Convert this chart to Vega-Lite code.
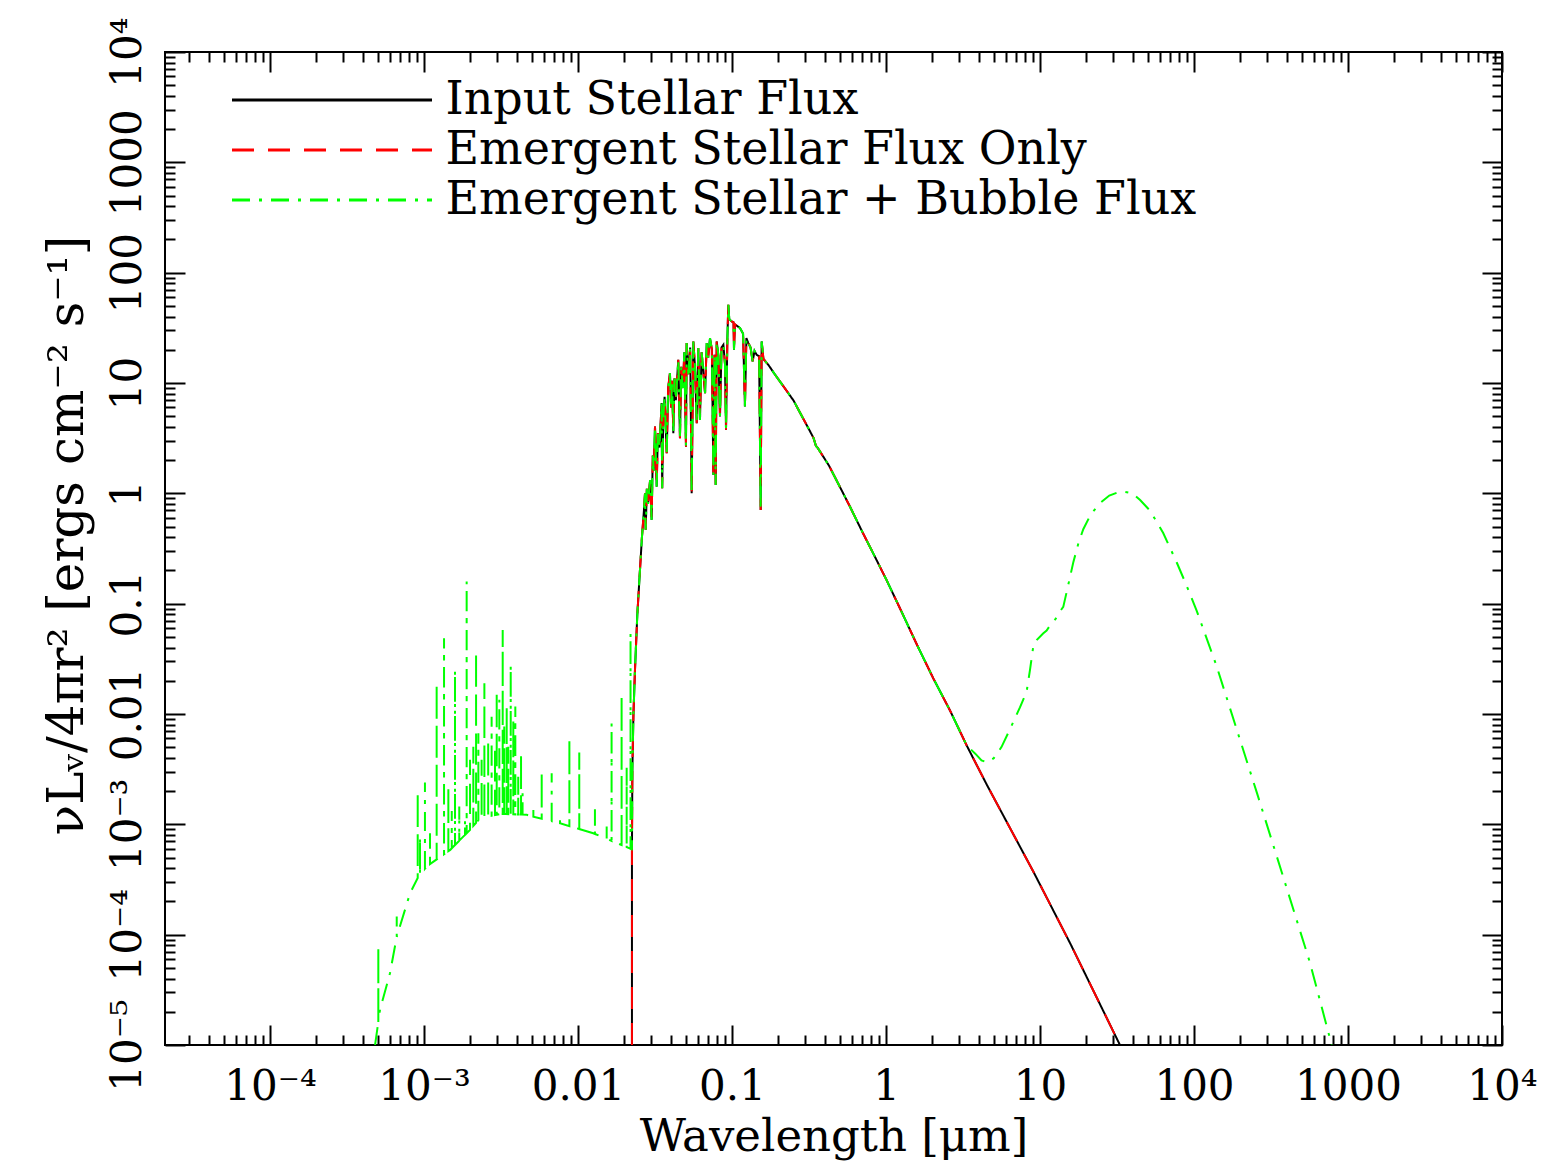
{
  "$schema": "https://vega.github.io/schema/vega-lite/v6.json",
  "width": 1337,
  "height": 993,
  "autosize": {"type": "none"},
  "padding": {"left": 165, "top": 52, "right": 43, "bottom": 119},
  "background": "white",
  "config": {
    "view": {"stroke": "#000", "strokeWidth": 2},
    "font": "DejaVu Serif",
    "axis": {
      "grid": false, "domain": false, "tickColor": "#000", "tickWidth": 2,
      "labelFont": "DejaVu Serif", "labelFontSize": 42, "labelColor": "#000",
      "titleFont": "DejaVu Serif", "titleFontSize": 45, "titleFontWeight": "normal", "titleColor": "#000",
      "labelOverlap": false, "labelFlush": false, "labelBound": false
    },
    "legend": {
      "labelFont": "DejaVu Serif", "labelFontSize": 46, "labelColor": "#000",
      "symbolSize": 40000, "symbolStrokeWidth": 3, "symbolType": "stroke",
      "clipHeight": 50, "rowPadding": 0, "padding": 0, "labelOffset": 12,
      "labelLimit": 1200, "symbolOffset": 0
    }
  },
  "data": {"values": [
    {"p":"x","i":0,"lam":4.81e-4,"f":1.0e-5},
    {"p":"x","i":1,"lam":5.05e-4,"f":1.62e-5},
    {"p":"x","i":2,"lam":5.05e-4,"f":7.78e-5},
    {"p":"x","i":3,"lam":5.05e-4,"f":1.62e-5},
    {"p":"x","i":4,"lam":5.18e-4,"f":2.09e-5},
    {"p":"x","i":5,"lam":6.01e-4,"f":4.47e-5},
    {"p":"x","i":6,"lam":6.65e-4,"f":9.55e-5},
    {"p":"x","i":7,"lam":6.65e-4,"f":1.46e-4},
    {"p":"x","i":8,"lam":6.65e-4,"f":9.55e-5},
    {"p":"x","i":9,"lam":8.11e-4,"f":2.37e-4},
    {"p":"x","i":10,"lam":9.10e-4,"f":3.27e-4},
    {"p":"x","i":11,"lam":9.10e-4,"f":1.98e-3},
    {"p":"x","i":12,"lam":9.10e-4,"f":3.27e-4},
    {"p":"x","i":13,"lam":9.18e-4,"f":3.36e-4},
    {"p":"x","i":14,"lam":9.42e-4,"f":3.51e-4},
    {"p":"x","i":15,"lam":9.42e-4,"f":7.74e-4},
    {"p":"x","i":16,"lam":9.42e-4,"f":3.51e-4},
    {"p":"x","i":17,"lam":1.014e-3,"f":3.96e-4},
    {"p":"x","i":18,"lam":1.014e-3,"f":2.39e-3},
    {"p":"x","i":19,"lam":1.014e-3,"f":3.96e-4},
    {"p":"x","i":20,"lam":1.04e-3,"f":4.14e-4},
    {"p":"x","i":21,"lam":1.094e-3,"f":4.36e-4},
    {"p":"x","i":22,"lam":1.094e-3,"f":8.30e-4},
    {"p":"x","i":23,"lam":1.094e-3,"f":4.36e-4},
    {"p":"x","i":24,"lam":1.208e-3,"f":4.81e-4},
    {"p":"x","i":25,"lam":1.208e-3,"f":1.90e-2},
    {"p":"x","i":26,"lam":1.208e-3,"f":4.81e-4},
    {"p":"x","i":27,"lam":1.349e-3,"f":5.36e-4},
    {"p":"x","i":28,"lam":1.349e-3,"f":4.86e-2},
    {"p":"x","i":29,"lam":1.349e-3,"f":5.36e-4},
    {"p":"x","i":30,"lam":1.439e-3,"f":5.71e-4},
    {"p":"x","i":31,"lam":1.439e-3,"f":2.20e-3},
    {"p":"x","i":32,"lam":1.439e-3,"f":5.71e-4},
    {"p":"x","i":33,"lam":1.48e-3,"f":5.86e-4},
    {"p":"x","i":34,"lam":1.514e-3,"f":6.07e-4},
    {"p":"x","i":35,"lam":1.514e-3,"f":1.32e-3},
    {"p":"x","i":36,"lam":1.514e-3,"f":6.07e-4},
    {"p":"x","i":37,"lam":1.589e-3,"f":6.50e-4},
    {"p":"x","i":38,"lam":1.589e-3,"f":2.51e-2},
    {"p":"x","i":39,"lam":1.589e-3,"f":6.50e-4},
    {"p":"x","i":40,"lam":1.694e-3,"f":7.11e-4},
    {"p":"x","i":41,"lam":1.694e-3,"f":1.45e-3},
    {"p":"x","i":42,"lam":1.694e-3,"f":7.11e-4},
    {"p":"x","i":43,"lam":1.845e-3,"f":8.02e-4},
    {"p":"x","i":44,"lam":1.845e-3,"f":1.096e-3},
    {"p":"x","i":45,"lam":1.845e-3,"f":8.02e-4},
    {"p":"x","i":46,"lam":1.892e-3,"f":8.30e-4},
    {"p":"x","i":47,"lam":1.892e-3,"f":0.1585},
    {"p":"x","i":48,"lam":1.892e-3,"f":8.30e-4},
    {"p":"x","i":49,"lam":1.99e-3,"f":8.91e-4},
    {"p":"x","i":50,"lam":1.99e-3,"f":3.84e-3},
    {"p":"x","i":51,"lam":1.99e-3,"f":8.91e-4},
    {"p":"x","i":52,"lam":2.09e-3,"f":9.68e-4},
    {"p":"x","i":53,"lam":2.09e-3,"f":5.06e-3},
    {"p":"x","i":54,"lam":2.09e-3,"f":9.68e-4},
    {"p":"x","i":55,"lam":2.178e-3,"f":1.033e-3},
    {"p":"x","i":56,"lam":2.178e-3,"f":3.68e-2},
    {"p":"x","i":57,"lam":2.178e-3,"f":1.033e-3},
    {"p":"x","i":58,"lam":2.254e-3,"f":1.09e-3},
    {"p":"x","i":59,"lam":2.254e-3,"f":6.70e-3},
    {"p":"x","i":60,"lam":2.254e-3,"f":1.09e-3},
    {"p":"x","i":61,"lam":2.31e-3,"f":1.135e-3},
    {"p":"x","i":62,"lam":2.366e-3,"f":1.143e-3},
    {"p":"x","i":63,"lam":2.366e-3,"f":3.84e-3},
    {"p":"x","i":64,"lam":2.366e-3,"f":1.143e-3},
    {"p":"x","i":65,"lam":2.466e-3,"f":1.156e-3},
    {"p":"x","i":66,"lam":2.466e-3,"f":1.90e-2},
    {"p":"x","i":67,"lam":2.466e-3,"f":1.156e-3},
    {"p":"x","i":68,"lam":2.61e-3,"f":1.175e-3},
    {"p":"x","i":69,"lam":2.61e-3,"f":5.82e-3},
    {"p":"x","i":70,"lam":2.61e-3,"f":1.175e-3},
    {"p":"x","i":71,"lam":2.748e-3,"f":1.194e-3},
    {"p":"x","i":72,"lam":2.748e-3,"f":9.46e-3},
    {"p":"x","i":73,"lam":2.748e-3,"f":1.194e-3},
    {"p":"x","i":74,"lam":2.89e-3,"f":1.213e-3},
    {"p":"x","i":75,"lam":2.89e-3,"f":5.06e-3},
    {"p":"x","i":76,"lam":2.89e-3,"f":1.213e-3},
    {"p":"x","i":77,"lam":2.965e-3,"f":1.222e-3},
    {"p":"x","i":78,"lam":2.965e-3,"f":1.596e-2},
    {"p":"x","i":79,"lam":2.965e-3,"f":1.222e-3},
    {"p":"x","i":80,"lam":3.083e-3,"f":1.236e-3},
    {"p":"x","i":81,"lam":3.083e-3,"f":1.343e-2},
    {"p":"x","i":82,"lam":3.083e-3,"f":1.236e-3},
    {"p":"x","i":83,"lam":3.12e-3,"f":1.24e-3},
    {"p":"x","i":84,"lam":3.243e-3,"f":1.24e-3},
    {"p":"x","i":85,"lam":3.243e-3,"f":5.78e-2},
    {"p":"x","i":86,"lam":3.243e-3,"f":1.24e-3},
    {"p":"x","i":87,"lam":3.319e-3,"f":1.24e-3},
    {"p":"x","i":88,"lam":3.319e-3,"f":7.69e-3},
    {"p":"x","i":89,"lam":3.319e-3,"f":1.24e-3},
    {"p":"x","i":90,"lam":3.443e-3,"f":1.24e-3},
    {"p":"x","i":91,"lam":3.443e-3,"f":1.167e-2},
    {"p":"x","i":92,"lam":3.443e-3,"f":1.24e-3},
    {"p":"x","i":93,"lam":3.524e-3,"f":1.238e-3},
    {"p":"x","i":94,"lam":3.524e-3,"f":5.06e-3},
    {"p":"x","i":95,"lam":3.524e-3,"f":1.238e-3},
    {"p":"x","i":96,"lam":3.656e-3,"f":1.236e-3},
    {"p":"x","i":97,"lam":3.656e-3,"f":2.786e-2},
    {"p":"x","i":98,"lam":3.656e-3,"f":1.236e-3},
    {"p":"x","i":99,"lam":3.80e-3,"f":1.234e-3},
    {"p":"x","i":100,"lam":3.80e-3,"f":8.85e-3},
    {"p":"x","i":101,"lam":3.80e-3,"f":1.234e-3},
    {"p":"x","i":102,"lam":3.917e-3,"f":1.232e-3},
    {"p":"x","i":103,"lam":3.917e-3,"f":1.167e-2},
    {"p":"x","i":104,"lam":3.917e-3,"f":1.232e-3},
    {"p":"x","i":105,"lam":4.09e-3,"f":1.23e-3},
    {"p":"x","i":106,"lam":4.09e-3,"f":2.70e-3},
    {"p":"x","i":107,"lam":4.09e-3,"f":1.23e-3},
    {"p":"x","i":108,"lam":4.266e-3,"f":1.228e-3},
    {"p":"x","i":109,"lam":4.266e-3,"f":4.42e-3},
    {"p":"x","i":110,"lam":4.266e-3,"f":1.228e-3},
    {"p":"x","i":111,"lam":4.365e-3,"f":1.226e-3},
    {"p":"x","i":112,"lam":4.365e-3,"f":1.914e-3},
    {"p":"x","i":113,"lam":4.365e-3,"f":1.226e-3},
    {"p":"x","i":114,"lam":4.65e-3,"f":1.22e-3},
    {"p":"x","i":115,"lam":5.13e-3,"f":1.175e-3},
    {"p":"x","i":116,"lam":5.13e-3,"f":1.445e-3},
    {"p":"x","i":117,"lam":5.13e-3,"f":1.175e-3},
    {"p":"x","i":118,"lam":5.81e-3,"f":1.125e-3},
    {"p":"x","i":119,"lam":5.81e-3,"f":3.01e-3},
    {"p":"x","i":120,"lam":5.81e-3,"f":1.125e-3},
    {"p":"x","i":121,"lam":6.745e-3,"f":1.069e-3},
    {"p":"x","i":122,"lam":6.745e-3,"f":2.91e-3},
    {"p":"x","i":123,"lam":6.745e-3,"f":1.069e-3},
    {"p":"x","i":124,"lam":7.64e-3,"f":1.023e-3},
    {"p":"x","i":125,"lam":7.64e-3,"f":1.175e-3},
    {"p":"x","i":126,"lam":7.64e-3,"f":1.023e-3},
    {"p":"x","i":127,"lam":8.79e-3,"f":9.64e-4},
    {"p":"x","i":128,"lam":8.79e-3,"f":6.04e-3},
    {"p":"x","i":129,"lam":8.79e-3,"f":9.64e-4},
    {"p":"x","i":130,"lam":1.019e-2,"f":9.06e-4},
    {"p":"x","i":131,"lam":1.019e-2,"f":4.47e-3},
    {"p":"x","i":132,"lam":1.019e-2,"f":9.06e-4},
    {"p":"x","i":133,"lam":1.256e-2,"f":8.30e-4},
    {"p":"x","i":134,"lam":1.288e-2,"f":8.18e-4},
    {"p":"x","i":135,"lam":1.288e-2,"f":1.371e-3},
    {"p":"x","i":136,"lam":1.288e-2,"f":8.18e-4},
    {"p":"x","i":137,"lam":1.535e-2,"f":7.40e-4},
    {"p":"x","i":138,"lam":1.535e-2,"f":9.55e-4},
    {"p":"x","i":139,"lam":1.535e-2,"f":7.40e-4},
    {"p":"x","i":140,"lam":1.652e-2,"f":7.08e-4},
    {"p":"x","i":141,"lam":1.652e-2,"f":8.24e-3},
    {"p":"x","i":142,"lam":1.652e-2,"f":7.08e-4},
    {"p":"x","i":143,"lam":1.919e-2,"f":6.49e-4},
    {"p":"x","i":144,"lam":1.919e-2,"f":1.489e-2},
    {"p":"x","i":145,"lam":1.919e-2,"f":6.49e-4},
    {"p":"x","i":146,"lam":2.07e-2,"f":6.21e-4},
    {"p":"x","i":147,"lam":2.07e-2,"f":3.33e-3},
    {"p":"x","i":148,"lam":2.07e-2,"f":6.21e-4},
    {"p":"x","i":149,"lam":2.193e-2,"f":6.01e-4},
    {"p":"x","i":150,"lam":2.193e-2,"f":5.40e-2},
    {"p":"x","i":151,"lam":2.193e-2,"f":6.01e-4},
    {"p":"x","i":152,"lam":2.234e-2,"f":5.94e-4},
    {"p":"b","i":500,"lam":0.0224,"f":1.0e-5},
    {"p":"s","i":501,"lam":0.0224,"f":6.0e-4},
    {"p":"s","i":502,"lam":0.02254,"f":3.16e-3},
    {"p":"s","i":503,"lam":0.02291,"f":1.0e-2},
    {"p":"s","i":504,"lam":0.02344,"f":2.51e-2},
    {"p":"s","i":505,"lam":0.02427,"f":7.94e-2},
    {"p":"s","i":506,"lam":0.02512,"f":0.178},
    {"p":"s","i":507,"lam":0.0260,"f":0.398},
    {"p":"s","i":508,"lam":0.0268,"f":0.70},
    {"p":"s","i":509,"lam":0.02723,"f":1.0},
    {"p":"s","i":510,"lam":0.0275,"f":0.467},
    {"p":"s","i":511,"lam":0.0280,"f":1.1},
    {"p":"s","i":512,"lam":0.0285,"f":0.8},
    {"p":"s","i":513,"lam":0.02938,"f":1.32},
    {"p":"s","i":514,"lam":0.03006,"f":0.575},
    {"p":"s","i":515,"lam":0.0306,"f":2.2},
    {"p":"s","i":516,"lam":0.0310,"f":1.6},
    {"p":"s","i":517,"lam":0.03162,"f":4.04},
    {"p":"s","i":518,"lam":0.03243,"f":1.15},
    {"p":"s","i":519,"lam":0.0330,"f":3.5},
    {"p":"s","i":520,"lam":0.0338,"f":2.6},
    {"p":"s","i":521,"lam":0.03491,"f":6.58},
    {"p":"s","i":522,"lam":0.0352,"f":1.11},
    {"p":"s","i":523,"lam":0.0358,"f":5.0},
    {"p":"s","i":524,"lam":0.0365,"f":7.5},
    {"p":"s","i":525,"lam":0.03767,"f":2.31},
    {"p":"s","i":526,"lam":0.0385,"f":9.0},
    {"p":"s","i":527,"lam":0.03954,"f":12.3},
    {"p":"s","i":528,"lam":0.0402,"f":6.0},
    {"p":"s","i":529,"lam":0.0408,"f":10.5},
    {"p":"s","i":530,"lam":0.04159,"f":3.51},
    {"p":"s","i":531,"lam":0.0423,"f":11.0},
    {"p":"s","i":532,"lam":0.0432,"f":7.0},
    {"p":"s","i":533,"lam":0.04477,"f":16.2},
    {"p":"s","i":534,"lam":0.04592,"f":3.16},
    {"p":"s","i":535,"lam":0.0468,"f":14.0},
    {"p":"s","i":536,"lam":0.0480,"f":9.0},
    {"p":"s","i":537,"lam":0.0490,"f":19.0},
    {"p":"s","i":538,"lam":0.05024,"f":2.65},
    {"p":"s","i":539,"lam":0.05076,"f":23.0},
    {"p":"s","i":540,"lam":0.0520,"f":12.0},
    {"p":"s","i":541,"lam":0.0535,"f":21.0},
    {"p":"s","i":542,"lam":0.0547,"f":1.0},
    {"p":"s","i":543,"lam":0.0561,"f":23.8},
    {"p":"s","i":544,"lam":0.0575,"f":14.0},
    {"p":"s","i":545,"lam":0.05902,"f":4.33},
    {"p":"s","i":546,"lam":0.06039,"f":20.7},
    {"p":"s","i":547,"lam":0.06194,"f":4.63},
    {"p":"s","i":548,"lam":0.0635,"f":19.0},
    {"p":"s","i":549,"lam":0.0650,"f":13.0},
    {"p":"s","i":550,"lam":0.06683,"f":8.09},
    {"p":"s","i":551,"lam":0.06852,"f":23.0},
    {"p":"s","i":552,"lam":0.0700,"f":17.0},
    {"p":"s","i":553,"lam":0.07197,"f":25.5},
    {"p":"s","i":554,"lam":0.0740,"f":20.0},
    {"p":"s","i":555,"lam":0.07568,"f":1.47},
    {"p":"s","i":556,"lam":0.0770,"f":18.0},
    {"p":"s","i":557,"lam":0.07834,"f":1.19},
    {"p":"s","i":558,"lam":0.07954,"f":23.8},
    {"p":"s","i":559,"lam":0.0815,"f":18.0},
    {"p":"s","i":560,"lam":0.08356,"f":4.97},
    {"p":"s","i":561,"lam":0.0855,"f":21.0},
    {"p":"s","i":562,"lam":0.0879,"f":22.2},
    {"p":"s","i":563,"lam":0.0900,"f":15.0},
    {"p":"s","i":564,"lam":0.09141,"f":3.77},
    {"p":"s","i":565,"lam":0.0933,"f":25.1},
    {"p":"s","i":566,"lam":0.0946,"f":51.2},
    {"p":"s","i":567,"lam":0.0960,"f":38.0},
    {"p":"s","i":568,"lam":0.0995,"f":36.1},
    {"p":"s","i":569,"lam":0.1023,"f":35.5},
    {"p":"s","i":570,"lam":0.1030,"f":20.0},
    {"p":"s","i":571,"lam":0.1045,"f":34.0},
    {"p":"s","i":572,"lam":0.1127,"f":31.5},
    {"p":"s","i":573,"lam":0.1180,"f":28.0},
    {"p":"s","i":574,"lam":0.1213,"f":6.12},
    {"p":"s","i":575,"lam":0.1240,"f":25.5},
    {"p":"s","i":576,"lam":0.1276,"f":23.0},
    {"p":"s","i":577,"lam":0.1320,"f":21.0},
    {"p":"s","i":578,"lam":0.1361,"f":15.7},
    {"p":"s","i":579,"lam":0.1400,"f":19.5},
    {"p":"s","i":580,"lam":0.1446,"f":18.0},
    {"p":"s","i":581,"lam":0.1500,"f":17.5},
    {"p":"s","i":582,"lam":0.1535,"f":0.708},
    {"p":"s","i":583,"lam":0.1558,"f":23.8},
    {"p":"s","i":584,"lam":0.1600,"f":16.5},
    {"p":"s","i":585,"lam":0.1722,"f":14.6},
    {"p":"s","i":586,"lam":0.1903,"f":11.9},
    {"p":"s","i":595,"lam":0.2158,"f":9.33},
    {"p":"s","i":596,"lam":0.2512,"f":6.92},
    {"p":"s","i":597,"lam":0.2767,"f":5.37},
    {"p":"s","i":598,"lam":0.3162,"f":3.80},
    {"p":"s","i":599,"lam":0.3388,"f":3.16},
    {"p":"s","i":600,"lam":0.3508,"f":2.69},
    {"p":"s","i":601,"lam":0.3589,"f":2.60},
    {"p":"s","i":602,"lam":0.3724,"f":2.40},
    {"p":"s","i":603,"lam":0.4266,"f":1.78},
    {"p":"s","i":604,"lam":0.5012,"f":1.148},
    {"p":"s","i":605,"lam":0.583,"f":0.759},
    {"p":"s","i":606,"lam":0.7079,"f":0.4365},
    {"p":"s","i":607,"lam":0.851,"f":0.263},
    {"p":"s","i":608,"lam":1.009,"f":0.1633},
    {"p":"s","i":609,"lam":1.259,"f":0.0851},
    {"p":"s","i":610,"lam":1.585,"f":0.0427},
    {"p":"s","i":611,"lam":2.028,"f":0.02104},
    {"p":"s","i":612,"lam":2.606,"f":0.01074},
    {"p":"s","i":613,"lam":3.342,"f":5.18e-3},
    {"p":"t","i":800,"lam":4.51,"f":2.29e-3},
    {"p":"t","i":801,"lam":9.06,"f":3.72e-4},
    {"p":"t","i":802,"lam":15.85,"f":8.13e-5},
    {"p":"t","i":803,"lam":33.04,"f":1.0e-5},
    {"p":"d","i":900,"lam":3.80,"f":4.37e-3},
    {"p":"d","i":901,"lam":4.17,"f":3.80e-3},
    {"p":"d","i":902,"lam":4.51,"f":3.65e-3},
    {"p":"d","i":903,"lam":5.01,"f":3.98e-3},
    {"p":"d","i":904,"lam":5.62,"f":5.01e-3},
    {"p":"d","i":905,"lam":6.38,"f":7.28e-3},
    {"p":"d","i":906,"lam":7.41,"f":1.148e-2},
    {"p":"d","i":907,"lam":8.18,"f":1.585e-2},
    {"p":"d","i":908,"lam":8.61,"f":2.51e-2},
    {"p":"d","i":909,"lam":9.06,"f":4.17e-2},
    {"p":"d","i":910,"lam":9.51,"f":4.68e-2},
    {"p":"d","i":911,"lam":10.47,"f":5.37e-2},
    {"p":"d","i":912,"lam":11.04,"f":5.71e-2},
    {"p":"d","i":913,"lam":11.61,"f":6.34e-2},
    {"p":"d","i":914,"lam":12.59,"f":7.24e-2},
    {"p":"d","i":915,"lam":13.49,"f":8.51e-2},
    {"p":"d","i":916,"lam":14.16,"f":9.35e-2},
    {"p":"d","i":917,"lam":15.14,"f":0.141},
    {"p":"d","i":918,"lam":16.44,"f":0.236},
    {"p":"d","i":919,"lam":17.78,"f":0.355},
    {"p":"d","i":920,"lam":19.10,"f":0.473},
    {"p":"d","i":921,"lam":21.38,"f":0.646},
    {"p":"d","i":922,"lam":24.55,"f":0.815},
    {"p":"d","i":923,"lam":28.18,"f":0.955},
    {"p":"d","i":924,"lam":31.62,"f":1.012},
    {"p":"d","i":925,"lam":34.75,"f":1.038},
    {"p":"d","i":926,"lam":39.81,"f":1.0},
    {"p":"d","i":927,"lam":44.67,"f":0.871},
    {"p":"d","i":928,"lam":51.76,"f":0.698},
    {"p":"d","i":929,"lam":63.10,"f":0.437},
    {"p":"d","i":930,"lam":77.27,"f":0.236},
    {"p":"d","i":931,"lam":89.13,"f":0.148},
    {"p":"d","i":932,"lam":104.0,"f":0.0865},
    {"p":"d","i":933,"lam":140.3,"f":0.0271},
    {"p":"d","i":934,"lam":189.2,"f":7.28e-3},
    {"p":"d","i":935,"lam":255.3,"f":1.959e-3},
    {"p":"d","i":936,"lam":380.2,"f":3.31e-4},
    {"p":"d","i":937,"lam":566.2,"f":5.58e-5},
    {"p":"d","i":938,"lam":783.4,"f":1.0e-5}
  ]},
  "layer": [
    {
      "transform": [{"filter": {"field": "p", "oneOf": ["b", "s", "t"]}}],
      "mark": {"type": "line", "clip": true, "strokeWidth": 2},
      "encoding": {
        "x": {
          "field": "lam", "type": "quantitative",
          "scale": {"type": "log", "domain": [2.08e-5, 10000], "nice": false},
          "axis": {
            "orient": "bottom",
            "values": [1e-4, 1e-3, 0.01, 0.1, 1, 10, 100, 1000, 10000],
            "tickSize": -20, "labelPadding": 41, "labelBaseline": "top",
            "labelExpr": "datum.value == 1e-4 ? '10⁻⁴' : datum.value == 1e-3 ? '10⁻³' : datum.value == 10000 ? '10⁴' : '' + datum.value",
            "title": "Wavelength [μm]", "titleBaseline": "alphabetic", "titleY": 105
          }
        },
        "y": {
          "field": "f", "type": "quantitative",
          "scale": {"type": "log", "domain": [1e-5, 10000], "nice": false},
          "axis": {
            "orient": "left",
            "values": [1e-5, 1e-4, 1e-3, 0.01, 0.1, 1, 10, 100, 1000, 10000],
            "tickSize": -20, "labelPadding": 45, "labelAngle": -90,
            "labelAlign": "center", "labelBaseline": "alphabetic",
            "labelExpr": "datum.value == 1e-5 ? '10⁻⁵' : datum.value == 1e-4 ? '10⁻⁴' : datum.value == 1e-3 ? '10⁻³' : datum.value == 10000 ? '10⁴' : '' + datum.value",
            "title": "νLᵥ/4πr² [ergs cm⁻² s⁻¹]", "titleFontSize": 50,
            "titleAngle": -90, "titleAlign": "center", "titleBaseline": "alphabetic",
            "titleX": -83, "titleY": 483
          }
        },
        "order": {"field": "i", "type": "quantitative"},
        "color": {
          "datum": "Input Stellar Flux", "type": "nominal",
          "scale": {"domain": ["Input Stellar Flux", "Emergent Stellar Flux Only", "Emergent Stellar + Bubble Flux"], "range": ["#000000", "#ff0000", "#00ff00"]},
          "legend": {"title": null, "orient": "none", "legendX": 65.5, "legendY": 23}
        },
        "strokeDash": {
          "datum": "Input Stellar Flux", "type": "nominal",
          "scale": {"domain": ["Input Stellar Flux", "Emergent Stellar Flux Only", "Emergent Stellar + Bubble Flux"], "range": [[1, 0], [22, 14], [18, 9, 3, 9]]},
          "legend": {"title": null, "orient": "none", "legendX": 65.5, "legendY": 23}
        }
      }
    },
    {
      "transform": [{"filter": {"field": "p", "oneOf": ["b", "s", "t"]}}],
      "mark": {"type": "line", "clip": true, "strokeWidth": 2},
      "encoding": {
        "x": {
          "field": "lam", "type": "quantitative",
          "axis": {
            "orient": "bottom", "labels": false, "title": null, "tickSize": -10,
            "values": [3e-5,4e-5,5e-5,6e-5,7e-5,8e-5,9e-5,2e-4,3e-4,4e-4,5e-4,6e-4,7e-4,8e-4,9e-4,0.002,0.003,0.004,0.005,0.006,0.007,0.008,0.009,0.02,0.03,0.04,0.05,0.06,0.07,0.08,0.09,0.2,0.3,0.4,0.5,0.6,0.7,0.8,0.9,2,3,4,5,6,7,8,9,20,30,40,50,60,70,80,90,200,300,400,500,600,700,800,900,2000,3000,4000,5000,6000,7000,8000,9000]
          }
        },
        "y": {
          "field": "f", "type": "quantitative",
          "axis": {
            "orient": "left", "labels": false, "title": null, "tickSize": -10,
            "values": [2e-5,3e-5,4e-5,5e-5,6e-5,7e-5,8e-5,9e-5,2e-4,3e-4,4e-4,5e-4,6e-4,7e-4,8e-4,9e-4,0.002,0.003,0.004,0.005,0.006,0.007,0.008,0.009,0.02,0.03,0.04,0.05,0.06,0.07,0.08,0.09,0.2,0.3,0.4,0.5,0.6,0.7,0.8,0.9,2,3,4,5,6,7,8,9,20,30,40,50,60,70,80,90,200,300,400,500,600,700,800,900,2000,3000,4000,5000,6000,7000,8000,9000]
          }
        },
        "order": {"field": "i", "type": "quantitative"},
        "color": {"datum": "Emergent Stellar Flux Only", "type": "nominal"},
        "strokeDash": {"datum": "Emergent Stellar Flux Only", "type": "nominal"}
      }
    },
    {
      "transform": [{"filter": {"field": "p", "oneOf": ["x", "s", "d"]}}],
      "mark": {"type": "line", "clip": true, "strokeWidth": 2},
      "encoding": {
        "x": {
          "field": "lam", "type": "quantitative",
          "axis": {
            "orient": "top", "labels": false, "title": null, "tickSize": -20,
            "values": [1e-4, 1e-3, 0.01, 0.1, 1, 10, 100, 1000, 10000]
          }
        },
        "y": {
          "field": "f", "type": "quantitative",
          "axis": {
            "orient": "right", "labels": false, "title": null, "tickSize": -20,
            "values": [1e-5, 1e-4, 1e-3, 0.01, 0.1, 1, 10, 100, 1000, 10000]
          }
        },
        "order": {"field": "i", "type": "quantitative"},
        "color": {"datum": "Emergent Stellar + Bubble Flux", "type": "nominal"},
        "strokeDash": {"datum": "Emergent Stellar + Bubble Flux", "type": "nominal"}
      }
    },
    {
      "transform": [{"filter": {"field": "p", "equal": "t"}}],
      "mark": {"type": "point", "opacity": 0},
      "encoding": {
        "x": {
          "field": "lam", "type": "quantitative",
          "axis": {
            "orient": "top", "labels": false, "title": null, "tickSize": -10,
            "values": [3e-5,4e-5,5e-5,6e-5,7e-5,8e-5,9e-5,2e-4,3e-4,4e-4,5e-4,6e-4,7e-4,8e-4,9e-4,0.002,0.003,0.004,0.005,0.006,0.007,0.008,0.009,0.02,0.03,0.04,0.05,0.06,0.07,0.08,0.09,0.2,0.3,0.4,0.5,0.6,0.7,0.8,0.9,2,3,4,5,6,7,8,9,20,30,40,50,60,70,80,90,200,300,400,500,600,700,800,900,2000,3000,4000,5000,6000,7000,8000,9000]
          }
        },
        "y": {
          "field": "f", "type": "quantitative",
          "axis": {
            "orient": "right", "labels": false, "title": null, "tickSize": -10,
            "values": [2e-5,3e-5,4e-5,5e-5,6e-5,7e-5,8e-5,9e-5,2e-4,3e-4,4e-4,5e-4,6e-4,7e-4,8e-4,9e-4,0.002,0.003,0.004,0.005,0.006,0.007,0.008,0.009,0.02,0.03,0.04,0.05,0.06,0.07,0.08,0.09,0.2,0.3,0.4,0.5,0.6,0.7,0.8,0.9,2,3,4,5,6,7,8,9,20,30,40,50,60,70,80,90,200,300,400,500,600,700,800,900,2000,3000,4000,5000,6000,7000,8000,9000]
          }
        }
      }
    }
  ],
  "resolve": {"axis": {"x": "independent", "y": "independent"}}
}
